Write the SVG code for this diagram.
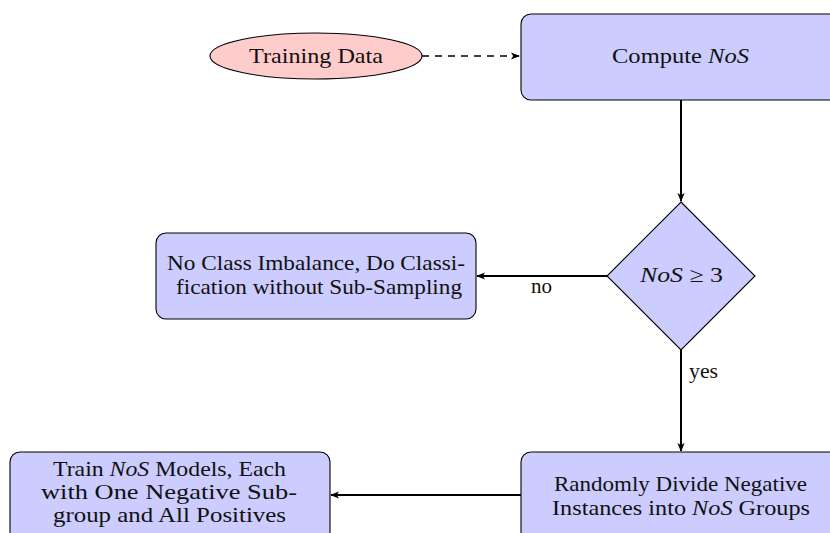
<svg xmlns="http://www.w3.org/2000/svg" width="830" height="533" viewBox="0 0 830 533">
<style>
.box{fill:#ccccff;stroke:#000;stroke-width:1.1}
.ell{fill:#ffcccc;stroke:#000;stroke-width:1.1}
text{font-family:"Liberation Serif","DejaVu Serif",serif;font-size:21px;fill:#111;text-anchor:middle}
.it{font-style:italic}
.edge{stroke:#000;stroke-width:2;fill:none}
.dash{stroke:#000;stroke-width:1.3;fill:none;stroke-dasharray:7 6}
</style>
<defs>
<marker id="ah" viewBox="0 0 10 10" refX="9" refY="5" markerWidth="9" markerHeight="9" markerUnits="userSpaceOnUse" orient="auto">
<path d="M0,1 L10,5 L0,9 L2.5,5 Z" fill="#000"/>
</marker>
</defs>
<g id="connectors">
<path class="dash" d="M422,56 L519,56" marker-end="url(#ah)"/>
<path class="edge" d="M681,100 L681,201" marker-end="url(#ah)"/>
<path class="edge" d="M607,276 L477,276" marker-end="url(#ah)"/>
<text x="541.5" y="293" textLength="21" lengthAdjust="spacingAndGlyphs">no</text>
<path class="edge" d="M681,350 L681,451" marker-end="url(#ah)"/>
<text x="703.5" y="378" textLength="29" lengthAdjust="spacingAndGlyphs">yes</text>
<path class="edge" d="M521,495 L331,495" marker-end="url(#ah)"/>
</g>
<g id="training">
<ellipse class="ell" cx="316" cy="56" rx="106" ry="23"/>
<text x="316" y="63" textLength="134" lengthAdjust="spacingAndGlyphs">Training Data</text>
</g>
<g id="compute">
<rect class="box" x="521" y="14" width="330" height="86" rx="10"/>
<text x="680.5" y="63" textLength="137" lengthAdjust="spacingAndGlyphs">Compute <tspan class="it">NoS</tspan></text>
</g>
<g id="decision">
<polygon class="box" points="681,202 755,276 681,350 607,276"/>
<text x="681.5" y="282" textLength="83" lengthAdjust="spacingAndGlyphs"><tspan class="it">NoS</tspan> ≥ 3</text>
</g>
<g id="noimb">
<rect class="box" x="156" y="233" width="320" height="86" rx="10"/>
<text x="316" y="270" textLength="298" lengthAdjust="spacingAndGlyphs">No Class Imbalance, Do Classi-</text>
<text x="319" y="294" textLength="286" lengthAdjust="spacingAndGlyphs">fication without Sub-Sampling</text>
</g>
<g id="divide">
<rect class="box" x="521" y="452" width="330" height="100" rx="10"/>
<text x="680.5" y="491" textLength="253" lengthAdjust="spacingAndGlyphs">Randomly Divide Negative</text>
<text x="681" y="515" textLength="258" lengthAdjust="spacingAndGlyphs">Instances into <tspan class="it">NoS</tspan> Groups</text>
</g>
<g id="train">
<rect class="box" x="10" y="452" width="320" height="100" rx="10"/>
<text x="169.5" y="476" textLength="233" lengthAdjust="spacingAndGlyphs">Train <tspan class="it">NoS</tspan> Models, Each</text>
<text x="169" y="499" textLength="256" lengthAdjust="spacingAndGlyphs">with One Negative Sub-</text>
<text x="169.5" y="522" textLength="233" lengthAdjust="spacingAndGlyphs">group and All Positives</text>
</g>
</svg>
